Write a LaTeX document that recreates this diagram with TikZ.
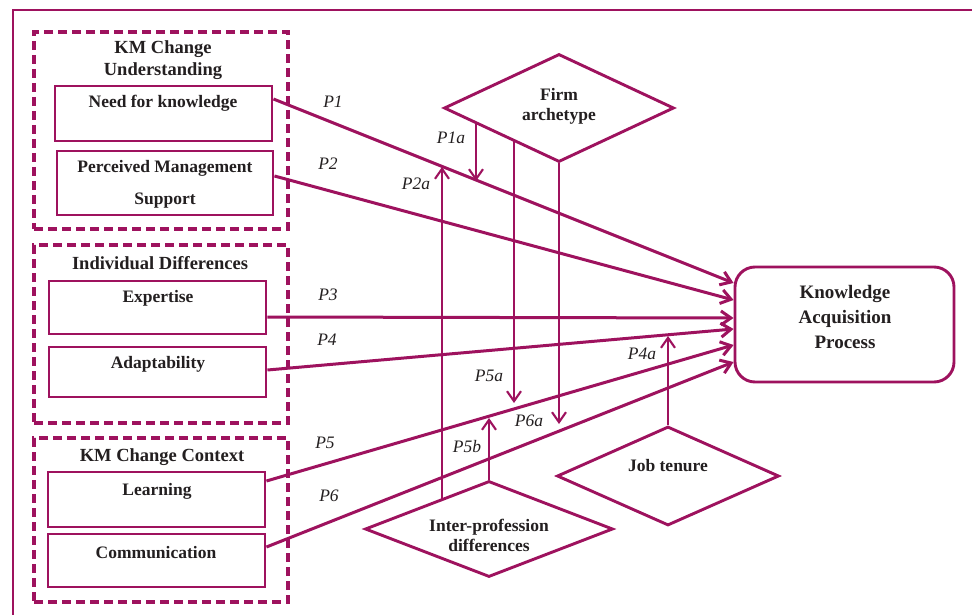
\documentclass[tikz,border=0pt]{standalone}
\usepackage{fontspec}
\setmainfont{Liberation Serif}
\usetikzlibrary{arrows.meta,shapes.geometric}
\definecolor{kmc}{RGB}{158,18,94}
\definecolor{txt}{RGB}{35,31,32}
\tikzset{
  frame/.style={draw=kmc, line width=2.8pt},
  grp/.style={draw=kmc, line width=3.1pt, dash pattern=on 9pt off 5pt, rectangle, inner sep=0pt},
  box/.style={draw=kmc, line width=2.9pt, rectangle, inner sep=0pt},
  ttl/.style={text=txt, font=\fontsize{18.5}{22}\selectfont\bfseries, align=center, inner sep=0pt},
  lbl/.style={text=txt, font=\fontsize{17.5}{20}\selectfont\bfseries, align=center, inner sep=0pt},
  plbl/.style={text=txt, font=\fontsize{17.5}{20}\selectfont\itshape, inner sep=0pt},
  rel/.style={draw=kmc, line width=3pt, -{Straight Barb[length=10pt,width=14pt]}},
  modarr/.style={draw=kmc, line width=2.1pt, -{Straight Barb[length=10pt,width=14pt]}},
  dia/.style={diamond, draw=kmc, line width=2.9pt, inner sep=0pt}
}
\begin{document}
\begin{tikzpicture}[x=1pt,y=-1pt]
\useasboundingbox (0,0) rectangle (972,615);
\clip (0,0) rectangle (972,615);
\fill[white] (0,0) rectangle (972,615);
% outer frame
\draw[frame] (990,10) -- (13,10) -- (13,640);

% groups
\node[grp, minimum width=254, minimum height=197] (g1) at (161,130.5) {};
\node[grp, minimum width=254, minimum height=178] (g2) at (161,334) {};
\node[grp, minimum width=254, minimum height=164] (g3) at (161,520) {};
\node[ttl] (g1t) at (163,60) {KM Change\\Understanding};
\node[ttl] (g2t) at (160,263) {Individual Differences};
\node[ttl] (g3t) at (162,457) {KM Change Context};

% boxes
\node[box, minimum width=217, minimum height=55] (need) at (163.5,113.5) {};
\node[box, minimum width=216, minimum height=64] (perc) at (165,183) {};
\node[box, minimum width=217, minimum height=53] (expt) at (157.5,307.5) {};
\node[box, minimum width=217, minimum height=50] (adap) at (157.5,372) {};
\node[box, minimum width=217, minimum height=55] (lern) at (156.5,499.5) {};
\node[box, minimum width=217, minimum height=53] (comm) at (156.5,560.5) {};
\node[lbl] (needT) at (163,103) {Need for knowledge};
\node[lbl, font=\fontsize{17.5}{32}\selectfont\bfseries] (percT) at (165,184) {Perceived Management\\Support};
\node[lbl] (exptT) at (158,298) {Expertise};
\node[lbl] (adapT) at (158,364) {Adaptability};
\node[lbl] (lernT) at (157,491) {Learning};
\node[lbl] (commT) at (156,553) {Communication};

% outcome
\node[draw=kmc, line width=2.9pt, rounded corners=20pt, minimum width=219, minimum height=115, inner sep=0pt] (kap) at (844.5,324.5) {};
\node[ttl, font=\fontsize{19}{25}\selectfont\bfseries] (kapT) at (845,317) {Knowledge\\Acquisition\\Process};

% moderators
\node[dia, minimum width=230, minimum height=108] (firm) at (559,108) {};
\node[lbl] (firmT) at (559,106) {Firm\\archetype};
\node[dia, minimum width=248, minimum height=96] (inter) at (489,529) {};
\node[lbl] (interT) at (489,535) {Inter-profession\\differences};
\node[dia, minimum width=222, minimum height=99] (job) at (668,476) {};
\node[lbl] (jobT) at (668,466) {Job tenure};

% main relations
\draw[rel] ([yshift=14.5pt]need.east) -- ([yshift=41.5pt]kap.west);
\draw[rel] ([yshift=7pt]perc.east) -- ([yshift=24.5pt]kap.west);
\draw[rel] ([yshift=-9.5pt]expt.east) -- ([yshift=6.5pt]kap.west);
\draw[rel] ([yshift=2pt]adap.east) -- ([yshift=-4.5pt]kap.west);
\draw[rel] ([yshift=18.5pt]lern.east) -- ([yshift=-20.5pt]kap.west);
\draw[rel] ([yshift=13.5pt]comm.east) -- ([yshift=-37.5pt]kap.west);

% moderating arrows
\coordinate (p1aS) at (476,124);
\coordinate (p1aE) at (476,181);
\coordinate (p5aS) at (514,141);
\coordinate (p5aE) at (514,403);
\coordinate (p6aE) at (559,424);
\coordinate (p2aS) at (442,499);
\coordinate (p2aE) at (442,167);
\coordinate (p5bE) at (489,418);
\coordinate (p4aE) at (668,336);
\draw[modarr] (p1aS) -- (p1aE);
\draw[modarr] (p5aS) -- (p5aE);
\draw[modarr] (firm.south) -- (p6aE);
\draw[modarr] (p2aS) -- (p2aE);
\draw[modarr] (inter.north) -- (p5bE);
\draw[modarr] (job.north) -- (p4aE);

% labels
\node[plbl] (lP1) at (333,102) {P1};
\node[plbl] (lP2) at (328,164) {P2};
\node[plbl] (lP3) at (328,295) {P3};
\node[plbl] (lP4) at (327,340) {P4};
\node[plbl] (lP5) at (325,443) {P5};
\node[plbl] (lP6) at (329,496) {P6};
\node[plbl] (lP1a) at (451,138) {P1a};
\node[plbl] (lP2a) at (416,184) {P2a};
\node[plbl] (lP5a) at (489,376) {P5a};
\node[plbl] (lP5b) at (467,447) {P5b};
\node[plbl] (lP6a) at (529,421) {P6a};
\node[plbl] (lP4a) at (642,354) {P4a};
\end{tikzpicture}
\end{document}
